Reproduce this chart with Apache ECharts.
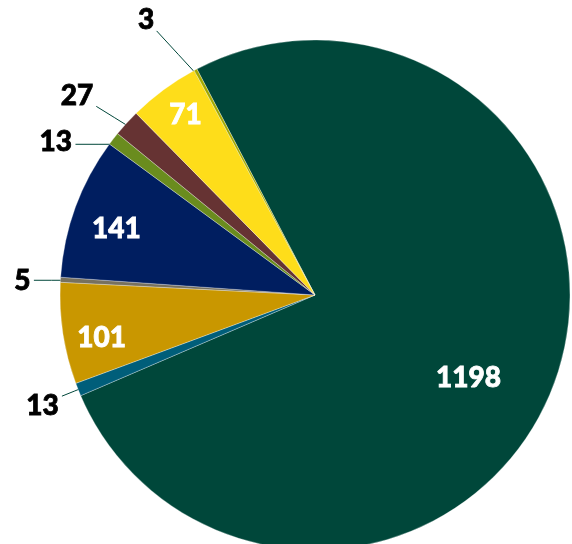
<!DOCTYPE html>
<html><head><meta charset="utf-8">
<script src="https://cdn.jsdelivr.net/npm/echarts@6/dist/echarts.min.js"></script>
<style>html,body{margin:0;padding:0;background:#fff}#c{width:572px;height:544px}</style>
</head><body><div id="c"></div>
<script>
// slices in clockwise order starting from the top boundary
const values = [1198, 13, 101, 5, 141, 13, 27, 71, 3];
const colors = ['#00473a', '#005e7a', '#c99700', '#77715e', '#001e60', '#6a8c1e', '#663333', '#fedd1a', '#a3a800'];
const insideLabel = [true, false, true, false, true, false, false, true, false];
// label nudges (style only)
const nudgeOut = [[0, 0], [12, 8], [0, 0], [3, 3], [0, 0], [-13, 17], [-6, -12], [0, 0], [-20, -30]];
const nudgeIn = [[-52, 10], [0, 0], [2, 10], [0, 0], [6, 9], [0, 0], [0, 0], [0, -5], [0, 0]];

const CX = 315, CY = 295;
const chart = echarts.init(document.getElementById('c'));
const font = 'Lato, "DejaVu Sans", sans-serif';

function outLayout(p) {
  const [dx, dy] = nudgeOut[p.dataIndex];
  const res = { dx: dx, dy: dy };
  const pts = p.labelLinePoints;
  if (pts && pts.length) {
    const a = pts[0];
    const vx = a[0] - CX, vy = a[1] - CY, len = Math.hypot(vx, vy);
    const s = [a[0] - vx / len * 9, a[1] - vy / len * 9];
    const r = p.labelRect;
    const x0 = r.x + dx, y0 = r.y + dy, x1 = x0 + r.width, y1 = y0 + r.height;
    const ex = Math.min(Math.max(s[0], x0), x1);
    const ey = Math.min(Math.max(s[1], y0 + 6), y1 - 6);
    const gx = s[0] - ex, gy = s[1] - ey, gl = Math.hypot(gx, gy) || 1;
    const e = [ex + gx / gl * 3, ey + gy / gl * 3];
    res.labelLinePoints = [s, [(s[0] + e[0]) / 2, (s[1] + e[1]) / 2], e];
  }
  return res;
}

chart.setOption({
  animation: false,
  series: [
    {
      type: 'pie', center: [CX, CY], radius: [0, 255], startAngle: 117.6, clockwise: true,
      avoidLabelOverlap: false, silent: true,
      itemStyle: { borderColor: 'rgba(255,255,255,0.5)', borderWidth: 0.6 },
      data: values.map((v, i) => ({
        value: v,
        itemStyle: { color: colors[i] },
        label: { show: !insideLabel[i] },
        labelLine: { show: !insideLabel[i] }
      })),
      label: { position: 'outside', color: '#000', fontFamily: font, fontWeight: 900, fontSize: 28,
               textBorderColor: '#000', textBorderWidth: 0.8, formatter: '{c}' },
      labelLine: { length: 22, length2: 6, lineStyle: { color: '#00473a', width: 1 } },
      labelLayout: outLayout
    },
    {
      type: 'pie', center: [CX, CY], radius: [175, 255], startAngle: 117.6, clockwise: true,
      avoidLabelOverlap: false, silent: true,
      data: values.map((v, i) => ({
        value: v,
        itemStyle: { color: 'transparent' },
        label: { show: insideLabel[i] }
      })),
      label: { position: 'inside', color: '#fff', fontFamily: font, fontWeight: 900, fontSize: 28,
               textBorderColor: '#fff', textBorderWidth: 0.8, formatter: '{c}' },
      labelLine: { show: false },
      labelLayout: p => ({ dx: nudgeIn[p.dataIndex][0], dy: nudgeIn[p.dataIndex][1] })
    }
  ]
});
</script></body></html>
